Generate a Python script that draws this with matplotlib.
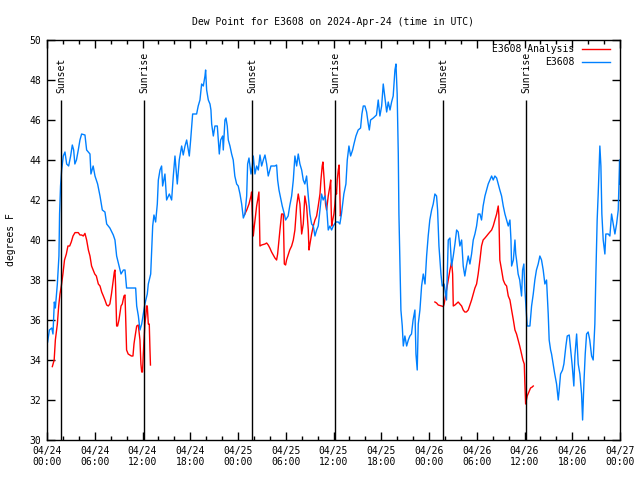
import numpy as np
import matplotlib
matplotlib.use("Agg")
import matplotlib.pyplot as plt
import matplotlib.dates as mdates
from datetime import datetime, timedelta

# hours after 2024-04-24 00:00 UTC, dew point (F)
obs_hours = [0.08, 0.3, 0.6, 0.75, 0.92, 1.05, 1.2, 1.3, 1.5, 1.58, 1.7, 1.84, 2.05, 2.26, 2.47, 2.72,
             2.97, 3.18, 3.35, 3.5, 3.7, 3.93, 4.14, 4.35, 4.77, 4.98, 5.4, 5.52, 5.8, 6.03, 6.36, 6.66,
             6.95, 7.28, 7.5, 7.9, 8.33, 8.54, 8.75, 9.05, 9.3, 9.6, 9.8, 10.0, 10.65, 11.14, 11.27,
             11.48, 11.68, 11.9, 12.1, 12.3, 12.6, 12.73, 13.03, 13.15, 13.28, 13.44, 13.65, 13.86,
             13.99, 14.2, 14.4, 14.53, 14.82, 15.03, 15.37, 15.66, 15.87, 16.08, 16.37, 16.62, 16.92,
             17.12, 17.34, 17.55, 17.88, 18.05, 18.3, 18.8, 19.0, 19.22, 19.43, 19.64, 19.85, 19.93,
             20.06, 20.27, 20.48, 20.6, 20.69, 20.9, 21.1, 21.4, 21.65, 21.82, 22.07, 22.15, 22.36,
             22.49, 22.65, 22.78, 22.99, 23.2, 23.4, 23.6, 23.83, 24.03, 24.25, 24.46, 24.67, 24.87,
             25.09, 25.21, 25.38, 25.63, 25.8, 25.92, 26.13, 26.34, 26.55, 26.76, 26.97, 27.18, 27.39,
             27.6, 27.8, 28.0, 28.14, 28.64, 28.85, 28.98, 29.15, 29.4, 29.56, 29.82, 29.98, 30.3,
             30.5, 30.74, 30.95, 31.15, 31.37, 31.57, 31.78, 32.0, 32.2, 32.4, 32.62, 32.83, 33.04,
             33.25, 33.46, 33.67, 33.88, 34.08, 34.3, 34.5, 34.7, 34.92, 35.13, 35.34, 35.55, 35.76,
             35.97, 36.3, 36.6, 36.8, 37.0, 37.15, 37.3, 37.56, 37.73, 37.94, 38.15, 38.4, 38.57,
             38.82, 39.1, 39.4, 39.57, 39.74, 39.95, 40.16, 40.37, 40.5, 40.66, 41.0, 41.4, 41.62,
             41.83, 42.05, 42.25, 42.46, 42.68, 42.88, 43.1, 43.3, 43.5, 43.72, 43.85, 44.0, 44.14,
             44.22, 44.35, 44.47, 44.64, 44.77, 44.97, 45.19, 45.4, 45.6, 45.8, 46.0, 46.23, 46.36,
             46.52, 46.65, 46.86, 47.07, 47.28, 47.5, 47.7, 47.9, 48.1, 48.33, 48.53, 48.74, 48.95,
             49.08, 49.25, 49.5, 49.66, 49.9, 50.08, 50.2, 50.42, 50.63, 50.84, 51.05, 51.26, 51.47,
             51.67, 51.88, 52.1, 52.3, 52.5, 52.7, 52.93, 53.14, 53.35, 53.56, 53.77, 53.98, 54.18,
             54.4, 54.6, 54.8, 55.03, 55.24, 55.44, 55.65, 55.87, 56.07, 56.28, 56.5, 56.7, 56.9,
             57.12, 57.33, 57.54, 57.75, 57.96, 58.17, 58.3, 58.38, 58.6, 58.8, 58.9, 59.0, 59.2,
             59.4, 59.63, 59.76, 59.92, 60.05, 60.34, 60.68, 60.89, 61.1, 61.3, 61.5, 61.72, 61.93,
             62.14, 62.35, 62.56, 62.77, 62.98, 63.1, 63.28, 63.4, 63.6, 63.8, 64.03, 64.24, 64.36,
             64.53, 64.78, 64.95, 65.2, 65.37, 65.62, 65.8, 66.0, 66.2, 66.33, 66.55, 66.75, 66.96,
             67.17, 67.3, 67.46, 67.63, 67.8, 68.0, 68.2, 68.43, 68.63, 68.84, 68.97, 69.13, 69.26,
             69.47, 69.6, 69.72, 69.89, 70.1, 70.22, 70.52, 70.73, 70.94, 71.15, 71.36, 71.57, 71.78,
             71.95, 72.0]
obs_values = [34.9, 35.5, 35.6, 35.3, 36.9, 36.6, 37.3, 37.8, 39.2, 41.3, 42.7, 43.5, 44.2, 44.4, 43.8, 43.7,
              44.2, 44.75, 44.5, 43.8, 44.0, 44.5, 45.0, 45.3, 45.25, 44.5, 44.3, 43.3, 43.7, 43.2, 42.8, 42.2,
              41.5, 41.4, 40.8, 40.6, 40.25, 40.0, 39.2, 38.7, 38.3, 38.5, 38.5, 37.6, 37.6, 37.6, 36.7,
              36.2, 35.5, 35.8, 36.3, 36.8, 37.3, 37.8, 38.3, 39.5, 40.7, 41.25, 40.9, 41.8,
              43.0, 43.5, 43.7, 42.7, 43.3, 42.0, 42.3, 42.0, 43.2, 44.2, 42.8, 44.0, 44.7,
              44.25, 44.7, 45.0, 44.2, 45.0, 46.3, 46.3, 46.7, 47.0, 47.8, 47.7, 48.2, 48.5,
              47.5, 47.0, 46.8, 46.5, 45.8, 45.2, 45.7, 45.7, 44.3, 45.0, 45.2, 44.5, 46.0,
              46.1, 45.7, 45.0, 44.7, 44.3, 44.0, 43.2, 42.8, 42.7, 42.3, 41.8, 41.1, 41.3,
              42.2, 43.8, 44.1, 43.3, 43.7, 44.2, 43.3, 43.7, 43.5, 44.25, 43.7, 44.0, 44.25,
              43.8, 43.2, 43.5, 43.7, 43.7, 43.75, 43.0, 42.5, 42.0, 41.7, 41.3, 41.0, 41.2,
              41.7, 42.2, 43.0, 44.2, 43.7, 44.3, 43.8, 43.5, 43.0, 42.8, 43.2, 42.2, 41.3,
              40.8, 40.7, 40.2, 40.5, 40.7, 41.5, 42.3, 42.0, 42.2, 41.7, 40.5, 40.7, 40.5,
              40.7, 40.9, 40.9, 40.8, 41.3, 41.8, 42.3, 42.8, 44.0, 44.7, 44.2, 44.5, 44.8,
              45.2, 45.5, 45.6, 46.3, 46.7, 46.7, 46.4, 45.8, 45.5, 46.0, 46.1, 46.25, 47.0,
              46.2, 46.7, 47.8, 47.1, 46.4, 46.9, 46.5, 46.9, 47.2, 48.5, 48.8, 47.3, 44.3,
              41.3, 38.8, 36.5, 35.7, 34.7, 35.2, 34.7, 35.0, 35.2, 35.3, 36.0, 36.5, 34.3,
              33.5, 35.8, 36.5, 37.7, 38.3, 37.8, 39.2, 40.2, 41.0, 41.5, 41.8, 42.3, 42.2,
              41.5, 39.7, 38.3, 37.7, 37.8, 37.3, 37.0, 40.0, 40.1, 38.7, 39.2, 39.8, 40.5,
              40.4, 39.7, 40.0, 38.7, 38.2, 38.7, 39.2, 38.8, 39.3, 40.0, 40.3, 40.7, 41.3,
              41.3, 41.0, 41.7, 42.2, 42.5, 42.8, 43.0, 43.2, 43.0, 43.2, 43.1, 42.8, 42.5,
              42.2, 41.7, 41.3, 41.0, 40.7, 41.0, 40.0, 38.7, 39.0, 40.0, 39.3, 39.0, 38.3,
              38.0, 37.2, 38.5, 38.8, 37.5, 35.7, 35.7, 36.7, 37.3, 38.0, 38.5, 38.8, 39.2,
              39.0, 38.5, 37.8, 38.0, 36.3, 35.0, 34.5, 34.3, 33.8, 33.3, 32.8, 32.0, 32.5,
              33.3, 33.5, 33.8, 34.7, 35.2, 35.25, 34.5, 33.7, 32.7, 34.2, 35.3, 33.8, 33.3,
              32.3, 31.0, 32.8, 34.3, 35.3, 35.4, 35.0, 34.2, 34.0, 35.8, 38.3, 41.0, 42.3,
              44.7, 43.7, 41.3, 40.0, 39.3, 40.3, 40.3, 40.2, 41.3, 40.8, 40.3, 40.8, 41.5,
              44.0, 42.8]

# analysis series has three separate pieces
ana_hours_1 = [0.67, 0.9, 1.05, 1.3, 1.47, 1.63, 1.8, 2.0, 2.2, 2.43, 2.63, 2.85, 3.05, 3.27, 3.52, 3.93,
               4.14, 4.35, 4.56, 4.77, 4.98, 5.2, 5.4, 5.6, 5.8, 6.0, 6.2, 6.45, 6.66, 6.87, 7.08, 7.28,
               7.5, 7.7, 7.9, 8.1, 8.33, 8.46, 8.54, 8.62, 8.75, 8.87, 9.04, 9.3, 9.46, 9.67, 9.8, 9.88,
               10.0, 10.2, 10.4, 10.6, 10.8, 10.93, 11.0, 11.27, 11.47, 11.68, 11.8, 11.9, 12.0, 12.1,
               12.19, 12.3, 12.44, 12.5, 12.6, 12.73, 12.85, 12.94, 13.0]
ana_values_1 = [33.67, 34.0, 35.0, 35.8, 36.7, 37.3, 37.7, 38.3, 39.0, 39.3, 39.7, 39.7, 39.9, 40.2, 40.37, 40.37,
                40.25, 40.25, 40.2, 40.33, 40.0, 39.5, 39.2, 38.7, 38.5, 38.3, 38.2, 37.8, 37.7, 37.4, 37.2, 37.0,
                36.75, 36.7, 36.8, 37.3, 38.0, 38.4, 38.5, 37.7, 35.7, 35.7, 36.0, 36.7, 36.8, 37.2, 37.25, 36.2,
                34.5, 34.3, 34.25, 34.2, 34.2, 34.8, 35.0, 35.7, 35.75, 35.0, 33.8, 33.4, 33.4, 34.3,
                35.0, 35.8, 36.3, 36.7, 36.7, 35.8, 35.8, 34.5, 33.75]
ana_hours_2 = [24.8, 25.1, 25.38, 25.63, 25.71, 25.8, 25.92, 26.05, 26.2, 26.34, 26.47, 26.63, 26.76, 26.97,
               27.39, 27.6, 27.8, 28.0, 28.22, 28.43, 28.64, 28.85, 28.98, 29.15, 29.27, 29.48, 29.69, 29.82,
               29.98, 30.1, 30.3, 30.5, 30.74, 30.95, 31.15, 31.37, 31.57, 31.78, 32.0, 32.2, 32.4, 32.62,
               32.83, 32.92, 33.04, 33.25, 33.46, 33.67, 33.88, 34.08, 34.3, 34.42, 34.58, 34.67, 34.83,
               35.0, 35.13, 35.34, 35.55, 35.65, 35.7, 35.77, 35.9, 36.05, 36.18, 36.3, 36.38, 36.47,
               36.6, 36.7, 36.8, 36.86, 36.93]
ana_values_2 = [41.25, 41.5, 41.8, 42.2, 42.4, 41.3, 40.2, 40.7, 41.2, 41.7, 42.0, 42.4, 39.7, 39.75,
                39.8, 39.85, 39.75, 39.6, 39.4, 39.25, 39.1, 39.0, 39.3, 40.0, 40.5, 41.3, 41.3, 38.8,
                38.75, 39.0, 39.25, 39.5, 39.7, 40.0, 40.5, 41.7, 42.3, 41.8, 40.3, 40.8, 42.2, 41.7,
                40.5, 39.5, 39.8, 40.3, 40.7, 41.0, 41.2, 41.7, 42.3, 43.0, 43.7, 43.9, 43.0,
                41.8, 41.5, 42.2, 42.7, 43.0, 41.7, 40.7, 41.0, 41.3, 41.8, 42.5, 42.3, 43.0,
                43.5, 43.75, 42.3, 41.2, 41.3]
ana_hours_3 = [48.74, 48.95, 49.16, 49.58, 49.8, 49.9, 50.08, 50.2, 50.42, 50.63, 50.84, 50.97, 51.05, 51.26,
               51.67, 51.88, 52.1, 52.3, 52.5, 52.7, 52.93, 53.14, 53.35, 53.56, 53.77, 53.98, 54.18, 54.4,
               54.6, 54.8, 55.03, 55.24, 55.44, 55.65, 55.87, 56.07, 56.28, 56.5, 56.7, 56.78, 56.9, 57.12,
               57.33, 57.54, 57.75, 57.96, 58.17, 58.38, 58.6, 58.8, 59.0, 59.2, 59.4, 59.63, 59.8, 59.97,
               60.05, 60.14, 60.34, 60.55, 60.76, 60.97, 61.1]
ana_values_3 = [36.9, 36.85, 36.75, 36.7, 36.67, 36.8, 37.2, 37.5, 38.0, 38.5, 38.9, 38.3, 36.7, 36.75,
                36.9, 36.8, 36.7, 36.5, 36.4, 36.4, 36.5, 36.75, 37.0, 37.3, 37.6, 37.8, 38.3, 39.0,
                39.7, 40.0, 40.1, 40.2, 40.3, 40.4, 40.5, 40.7, 41.0, 41.3, 41.7, 41.25, 39.0, 38.5,
                38.0, 37.8, 37.7, 37.2, 37.0, 36.5, 36.0, 35.5, 35.3, 35.0, 34.7, 34.3, 34.0, 33.8,
                32.8, 31.8, 32.2, 32.4, 32.6, 32.65, 32.7]

sun_hours = [1.76, 12.2, 25.75, 36.2, 49.75, 60.2]
sun_labels = ["Sunset", "Sunrise", "Sunset", "Sunrise", "Sunset", "Sunrise"]

start = datetime(2024, 4, 24)


def to_time(hours):
    return [start + timedelta(hours=h) for h in hours]


plt.rcParams['font.family'] = 'DejaVu Sans Mono'
plt.rcParams['font.size'] = 7

fig = plt.figure(figsize=(6.4, 4.8), dpi=100)
ax = fig.add_axes([47 / 640, 40 / 480, 573 / 640, 400 / 480])

red = "#ff0000"
blue = "#0080ff"
ax.plot(to_time(ana_hours_1), ana_values_1, color=red, lw=1, label="E3608 Analysis")
ax.plot(to_time(ana_hours_2), ana_values_2, color=red, lw=1)
ax.plot(to_time(ana_hours_3), ana_values_3, color=red, lw=1)
ax.plot(to_time(obs_hours), obs_values, color=blue, lw=1, label="E3608")

for h, lab in zip(sun_hours, sun_labels):
    t = start + timedelta(hours=h)
    ax.vlines(t, 30, 47, color="black", lw=1)
    ax.text(t, 47.35, lab, rotation=90, ha="center", va="bottom", fontsize=7)

ax.set_xlim(start, start + timedelta(hours=72))
ax.set_ylim(30, 50)
ax.set_yticks(np.arange(30, 51, 2))
ax.xaxis.set_major_locator(mdates.HourLocator(byhour=[0, 6, 12, 18]))
ax.xaxis.set_minor_locator(mdates.HourLocator(byhour=range(0, 24, 2)))
ax.xaxis.set_major_formatter(mdates.DateFormatter("%m/%d\n%H:%M"))
ax.tick_params(which="both", direction="in", top=True, right=True, width=1)
ax.tick_params(which="major", length=6, pad=4)
ax.tick_params(which="minor", length=3)
for s in ax.spines.values():
    s.set_linewidth(1)

ax.set_ylabel("degrees F", labelpad=10)
ax.set_title("Dew Point for E3608 on 2024-Apr-24 (time in UTC)", fontsize=7, pad=11)
ax.legend(loc="upper right", bbox_to_anchor=((610 - 47) / 573, 1 - 4 / 400),
          markerfirst=False, frameon=False, handlelength=2.9, borderaxespad=0, borderpad=0,
          labelspacing=0.35, handletextpad=0.8, fontsize=7)

fig.savefig("out.png", dpi=100)
